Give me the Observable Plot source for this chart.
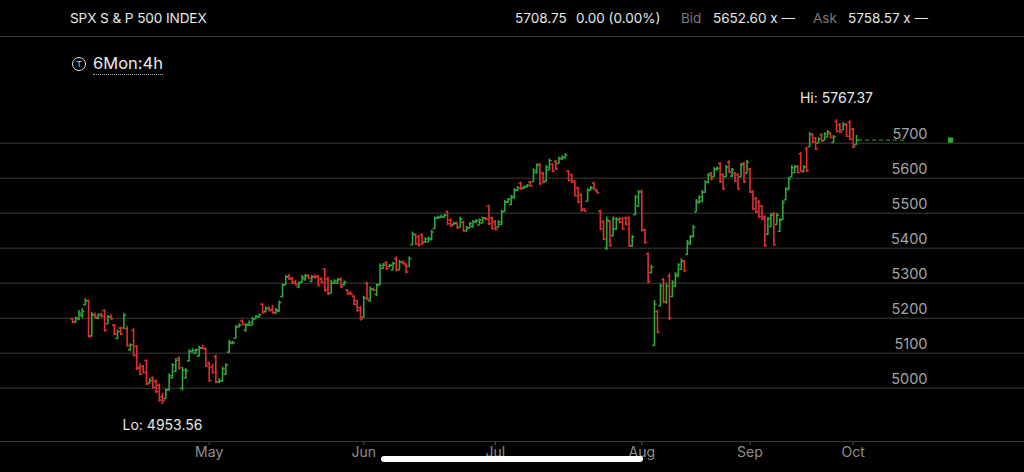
<!DOCTYPE html>
<html><head><meta charset="utf-8">
<script src="https://cdn.jsdelivr.net/npm/d3@7"></script>
<script src="https://cdn.jsdelivr.net/npm/@observablehq/plot@0.6"></script>
<style>
html,body{margin:0;padding:0;background:#000;}
#wrap{position:relative;width:1024px;height:472px;overflow:hidden;background:#000;font-family:Inter,Roboto,"Noto Sans",sans-serif;}
#chart{position:absolute;left:0;top:0;}
.t{position:absolute;white-space:nowrap;line-height:1;}
.hline{position:absolute;left:0;width:1024px;height:1px;background:#3a3a3a;}
</style></head><body>
<div id="wrap">
  <div id="chart"></div>
  <div class="t" style="left:70px;top:12px;font-size:13.6px;color:#e8e8e8;letter-spacing:-0.1px">SPX S &amp; P 500 INDEX</div>
  <div class="t" style="left:515px;top:12px;font-size:13.5px;color:#e8e8e8">5708.75</div>
  <div class="t" style="left:576px;top:12px;font-size:13.5px;color:#e8e8e8">0.00 (0.00%)</div>
  <div class="t" style="left:681px;top:12px;font-size:13.5px;color:#7a7a7a">Bid</div>
  <div class="t" style="left:713px;top:12px;font-size:13.5px;color:#e8e8e8">5652.60 x —</div>
  <div class="t" style="left:813px;top:12px;font-size:13.5px;color:#7a7a7a">Ask</div>
  <div class="t" style="left:848px;top:12px;font-size:13.5px;color:#e8e8e8">5758.57 x —</div>
  <div class="hline" style="top:36px"></div>
  <div class="t" style="left:72px;top:57px;width:12px;height:12px;border:1px solid #ddd;border-radius:50%;font-size:8px;color:#ddd;text-align:center;line-height:12px">T</div>
  <div class="t" style="left:93px;top:55px;font-size:16.5px;color:#e8e8e8;padding-bottom:2px;border-bottom:1px dotted #aaa">6Mon:4h</div>
  <div class="hline" style="top:441px"></div>
  <div class="t" style="left:381px;top:456px;width:262px;height:6px;border-radius:3px;background:#fff"></div>
</div>
<script>
// Bar sequence (4h bars)
const opens = [5198,5190,5198,5208,5238,5250,5150,5208,5200,5210,5222,5184,5204,5180,5142,5172,5172,5170,5110,5165,5120,5060,5062,5079,5015,5030,5020,5008,4975,4970,4996,5030,5048,5086,5000,5030,5078,5104,5100,5092,5115,5112,5072,5060,5090,5018,5020,5040,5103,5128,5143,5176,5192,5166,5182,5180,5198,5204,5240,5220,5228,5225,5216,5220,5262,5296,5318,5314,5304,5290,5303,5312,5322,5305,5318,5320,5312,5340,5312,5272,5300,5300,5312,5296,5280,5272,5262,5250,5230,5203,5300,5250,5282,5268,5296,5342,5358,5348,5338,5370,5338,5360,5352,5348,5410,5438,5432,5438,5418,5418,5424,5456,5486,5488,5490,5504,5480,5468,5472,5460,5474,5450,5458,5462,5476,5466,5472,5486,5520,5486,5476,5460,5468,5505,5532,5524,5544,5566,5586,5572,5576,5588,5590,5616,5640,5614,5592,5624,5640,5648,5642,5656,5658,5620,5610,5592,5572,5552,5512,5534,5566,5586,5564,5506,5476,5400,5476,5436,5455,5482,5484,5486,5486,5406,5496,5520,5562,5452,5384,5330,5122,5220,5236,5310,5246,5320,5262,5292,5320,5340,5362,5382,5412,5434,5504,5530,5534,5560,5588,5614,5604,5626,5642,5610,5604,5646,5606,5614,5610,5604,5642,5614,5626,5562,5542,5532,5520,5490,5440,5462,5498,5468,5448,5482,5538,5568,5604,5616,5634,5670,5618,5684,5690,5724,5714,5700,5724,5708,5718,5728,5702,5762,5752,5738,5752,5760,5740,5696];
const highs = [5200,5203,5222,5227,5256,5252,5217,5215,5212,5214,5224,5208,5210,5182,5167,5175,5214,5176,5127,5170,5122,5070,5065,5081,5027,5032,5024,5012,4985,4998,5041,5070,5084,5089,5060,5056,5110,5113,5112,5120,5122,5115,5075,5068,5094,5027,5060,5070,5137,5134,5179,5184,5195,5184,5192,5203,5208,5212,5241,5232,5233,5236,5228,5249,5298,5322,5325,5317,5308,5303,5322,5325,5324,5322,5324,5322,5316,5342,5317,5308,5310,5313,5315,5306,5282,5276,5265,5251,5234,5262,5303,5289,5286,5298,5355,5356,5362,5354,5360,5375,5365,5364,5356,5375,5446,5441,5436,5441,5430,5432,5451,5489,5492,5494,5497,5506,5484,5474,5474,5489,5477,5462,5474,5479,5482,5484,5489,5488,5523,5489,5479,5479,5508,5536,5542,5551,5570,5576,5589,5578,5582,5590,5627,5641,5642,5617,5636,5655,5641,5651,5660,5664,5670,5622,5612,5593,5574,5555,5514,5570,5576,5589,5566,5508,5479,5489,5479,5489,5487,5488,5487,5489,5489,5436,5551,5565,5566,5455,5386,5351,5251,5222,5298,5314,5300,5327,5307,5330,5356,5370,5365,5422,5436,5465,5539,5550,5565,5593,5613,5616,5630,5632,5645,5613,5636,5650,5628,5616,5613,5642,5645,5651,5628,5565,5545,5536,5522,5493,5488,5499,5502,5499,5485,5536,5573,5602,5636,5636,5636,5673,5636,5688,5730,5727,5716,5716,5727,5730,5736,5730,5722,5767.37,5756,5759,5756,5764,5742,5722];
const lows = [5184,5186,5193,5200,5236,5144,5146,5198,5196,5200,5160,5182,5194,5150,5139,5150,5168,5118,5106,5089,5051,5036,5041,5008,5012,4998,4984,4960,4953.56,4968,4992,5027,5046,5051,4992,5027,5075,5100,5096,5089,5110,5060,5017,5040,5013,5013,5017,5036,5100,5124,5140,5172,5179,5160,5176,5179,5196,5200,5212,5215,5218,5212,5210,5217,5258,5294,5308,5296,5293,5284,5300,5305,5310,5303,5312,5289,5298,5274,5265,5270,5296,5298,5284,5292,5265,5265,5236,5217,5191.7,5200,5250,5246,5276,5262,5293,5340,5336,5344,5336,5332,5336,5352,5327,5346,5408,5408,5403,5408,5414,5416,5422,5455,5482,5484,5485,5465,5460,5464,5455,5458,5446,5446,5456,5458,5470,5465,5470,5478,5465,5451,5449,5458,5465,5503,5528,5522,5541,5562,5565,5568,5572,5574,5589,5612,5579,5584,5589,5622,5617,5622,5641,5650,5655,5589,5584,5546,5527,5503,5504,5532,5564,5565,5555,5451,5422,5393,5403,5432,5451,5470,5451,5465,5403,5403,5493,5517,5446,5412,5298,5327,5119.26,5155,5232,5241,5240,5193,5259,5288,5316,5336,5330,5379,5408,5430,5502,5527,5530,5556,5585,5593,5602,5620,5585,5565,5602,5613,5602,5588,5565,5602,5585,5612,5556,5508,5499,5485,5479,5402,5436,5459,5406,5465,5445,5479,5536,5565,5602,5613,5613,5616,5616,5616,5688,5699,5679,5699,5702,5707,5716,5713,5699,5730,5727,5736,5716,5707,5684,5694];
const closes = [5188,5200,5214,5220,5250,5147,5210,5203,5210,5206,5165,5204,5198,5155,5162,5155,5208,5122,5124,5094,5056,5040,5045,5012,5022,5002,4990,4966,4965,4994,5036,5066,5080,5058,5052,5050,5106,5108,5110,5115,5114,5064,5022,5045,5018,5022,5055,5066,5132,5130,5175,5180,5182,5180,5188,5198,5205,5210,5216,5228,5222,5216,5224,5245,5294,5318,5312,5300,5296,5300,5318,5320,5314,5318,5316,5294,5302,5280,5270,5302,5306,5310,5290,5303,5270,5268,5240,5222,5198,5258,5256,5284,5280,5294,5350,5352,5342,5351,5356,5338,5360,5358,5332,5370,5440,5412,5410,5415,5426,5428,5446,5485,5488,5490,5494,5470,5464,5471,5458,5484,5450,5458,5470,5476,5478,5480,5486,5483,5470,5456,5454,5475,5504,5532,5540,5548,5566,5572,5570,5575,5580,5578,5622,5636,5584,5588,5632,5650,5620,5626,5656,5660,5666,5594,5590,5550,5532,5508,5506,5565,5572,5568,5558,5455,5426,5480,5408,5484,5482,5475,5455,5468,5408,5432,5546,5560,5452,5416,5305,5346,5240,5160,5292,5246,5292,5200,5302,5326,5352,5364,5336,5418,5432,5460,5534,5546,5560,5588,5608,5598,5626,5628,5590,5570,5632,5618,5624,5592,5570,5638,5590,5646,5560,5512,5504,5490,5484,5408,5484,5494,5410,5494,5480,5530,5568,5598,5630,5632,5616,5620,5632,5622,5726,5704,5684,5712,5706,5726,5732,5716,5718,5734,5732,5754,5720,5712,5690,5708.75];
const gridValues = [5000,5100,5200,5300,5400,5500,5600,5700];
const monthLabels = ["May","Jun","Jul","Aug","Sep","Oct"];
const monthStartIndex = [42,89,130,176,212,246];

const GREEN = "#2ea83a", RED = "#e3302c";
const bars = opens.map((o, i) => ({i, open: o, high: highs[i], low: lows[i], close: closes[i]}));
const col = d => d.close >= d.open ? GREEN : RED;
const hi = bars.reduce((a, b) => b.high > a.high ? b : a);
const lo = bars.reduce((a, b) => b.low < a.low ? b : a);
const last = bars[bars.length - 1];
const months = monthLabels.map((m, k) => ({label: m, i: monthStartIndex[k]}));
const n = bars.length;

const chart = Plot.plot({
  width: 1024, height: 472, margin: 0,
  style: {background: "transparent", fontFamily: "Inter, Roboto, sans-serif"},
  x: {type: "linear", domain: [0, 28, 64, 104, 180, 241, n - 1], range: [72, 162, 282, 412, 654, 836, 856], axis: null},
  y: {type: "linear", domain: [5000, 5700], range: [387.7, 142.7], axis: null},
  marks: [
    Plot.ruleY(gridValues, {y: d => d, stroke: "#3e3e3e", strokeWidth: 1}),
    Plot.text(gridValues, {y: d => d, text: d => String(d), frameAnchor: "right", dx: -97, dy: -9, fill: "#a4a4a4", fontSize: 14.5}),
    Plot.ruleX(months, {x: "i", insetTop: 441, insetBottom: 27, stroke: "#555"}),
    Plot.text(months, {x: "i", text: "label", frameAnchor: "bottom", dy: -16, fill: "#8f8f8f", fontSize: 14}),
    Plot.ruleX(bars, {x: "i", y1: "low", y2: "high", stroke: col, strokeWidth: 1.6}),
    Plot.link(bars, {x1: d => d.i - 0.7, x2: "i", y1: "open", y2: "open", stroke: col, strokeWidth: 1.5}),
    Plot.link(bars, {x1: "i", x2: d => d.i + 0.7, y1: "close", y2: "close", stroke: col, strokeWidth: 1.5}),
    Plot.ruleY([last], {y: "close", insetLeft: 858, insetRight: 119, stroke: GREEN, strokeDasharray: "4,3"}),
    Plot.dot([last], {y: "close", frameAnchor: "right", dx: -74, symbol: "square", r: 3, fill: GREEN, stroke: "none"}),
    Plot.text([hi], {x: "i", y: "high", text: d => `Hi: ${d.high.toFixed(2)}`, dy: -21, fill: "#e6e6e6", fontSize: 14}),
    Plot.text([lo], {x: "i", y: "low", text: d => `Lo: ${d.low.toFixed(2)}`, dy: 21, fill: "#e6e6e6", fontSize: 14})
  ]
});
document.getElementById("chart").appendChild(chart);
</script>
</body></html>
